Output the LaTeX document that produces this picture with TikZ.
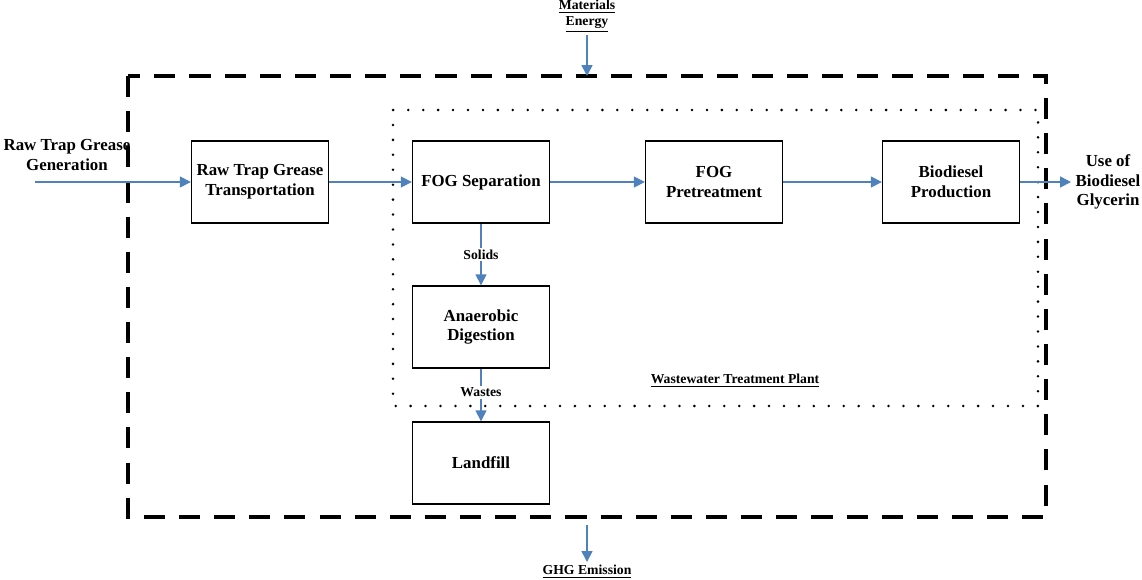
\documentclass[tikz,border=0pt]{standalone}
\usepackage{fontspec}
\setmainfont{Liberation Serif}
\usetikzlibrary{positioning,arrows.meta}
\definecolor{flowblue}{RGB}{79,129,189}
\tikzset{>={Triangle[length=2.2mm,width=2.2mm]}}

\begin{document}
\begin{tikzpicture}[x=0.02cm, y=-0.02cm, font=\bfseries\fontsize{9.6}{11.2}\selectfont,
    stage/.style={draw, thick, minimum width=2.74cm, minimum height=1.64cm, align=center, inner sep=1pt},
    flow/.style={color=flowblue, line width=0.9pt},
    tag/.style={font=\bfseries\fontsize{7.8}{9.2}\selectfont, fill=white, text=black, inner sep=1pt, align=center}]
        \useasboundingbox (0,0) rectangle (1142,579);
        % system boundary and plant
        \draw[line width=2.3pt, dash pattern=on 12pt off 8pt] (128,76) rectangle (1046,517);
        \draw[line width=1.6pt, dash pattern=on 0pt off 8.5pt, line cap=round] (393,110) rectangle (1038,406);
        \node[stage] (trans) at (260,182) {Raw Trap Grease\\Transportation};
        \node[stage] (sep) at (481,182) {FOG Separation};
        \node[stage] (pre) at (714,182) {FOG\\Pretreatment};
        \node[stage] (bio) at (951,182) {Biodiesel\\Production};
        \node[stage] (ad) at (481,327) {Anaerobic\\Digestion};
        \node[stage] (land) at (481,463) {Landfill};
        \node[align=center] (gen) at (67,155) {Raw Trap Grease\\Generation};
        \node[align=center] (use) at (1108,182) {Use of\\Biodiesel\\Glycerin};
        \node[align=center, font=\bfseries\fontsize{7.8}{9.2}\selectfont] (mat) at (587,16) {\underline{Materials}\\\underline{Energy}};
        \node[font=\bfseries\fontsize{7.8}{9.2}\selectfont] (ghg) at (587,572) {\underline{GHG Emission}};
        \node[font=\bfseries\fontsize{7.8}{9.2}\selectfont] (wwtp) at (735,381) {\underline{Wastewater Treatment Plant}};
        \coordinate (genin) at (35,182);
        \coordinate (matin) at (587,35);
        \coordinate (matout) at (587,76);
        \coordinate (ghgin) at (587,525);
        \coordinate (ghgout) at (587,562);
        \coordinate (useout) at (1071,182);

        \path[->, flow]
        (genin) edge (trans)
        (trans) edge (sep)
        (sep) edge (pre)
        (pre) edge (bio)
        (bio) edge (useout)
        (sep) edge node[tag, pos=0.5] {Solids} (ad)
        (ad) edge node[tag, pos=0.45] {Wastes} (land)
        (matin) edge (matout)
        (ghgin) edge (ghgout);
      \end{tikzpicture}
\end{document}
